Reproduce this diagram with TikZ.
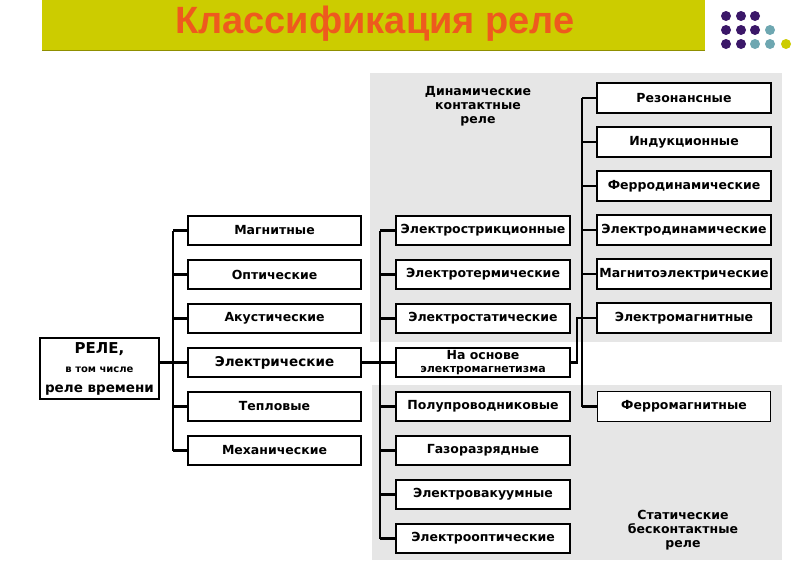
\documentclass[tikz,border=0pt]{standalone}
\usepackage{fontspec}
\setmainfont{DejaVu Sans}
\newfontfamily\titlefont{Liberation Sans}
\usetikzlibrary{positioning}
\definecolor{barolive}{HTML}{CCCC00}
\definecolor{titleorange}{HTML}{EE5A1E}
\definecolor{dotpurple}{HTML}{3B1768}
\definecolor{dotteal}{HTML}{6EA7B1}
\definecolor{panelgray}{HTML}{E6E6E6}
\begin{document}
\begin{tikzpicture}[x=1pt,y=-1pt,font=\bfseries\fontsize{12.5}{14}\selectfont,node distance=12.5pt,box/.style={draw,line width=2pt,fill=white,minimum width=173.5pt,minimum height=29.5pt,inner sep=1pt,align=center},bus/.style={line width=1.2pt},link/.style={line width=2.2pt},caption/.style={align=center,font=\bfseries\fontsize{12.5}{14}\selectfont}]
\useasboundingbox (0,0) rectangle (810,570);
\fill[barolive] (42,0) rectangle (705,50);
\draw[barolive!70!black,line width=0.8pt] (42,50) -- (705,50);
\node[font=\titlefont\bfseries\fontsize{38}{38}\selectfont,text=titleorange] (title) at (375,24){Классификация реле};
\foreach \cx/\cy/\cc in {726/16/dotpurple,741/16/dotpurple,755/16/dotpurple,726/30/dotpurple,741/30/dotpurple,755/30/dotpurple,770/30/dotteal,726/44/dotpurple,741/44/dotpurple,755/44/dotteal,770/44/dotteal,786/44/barolive} \fill[\cc] (\cx,\cy) circle[radius=5];
\fill[panelgray] (370,73) rectangle (782,342);
\fill[panelgray] (372,385) rectangle (782,560);
\node[caption] (dynlbl) at (478,106){Динамические\\контактные\\реле};
\node[caption] (statlbl) at (683,530){Статические\\бесконтактные\\реле};
\node[box,minimum width=119.5pt,minimum height=61.5pt,font=\bfseries\fontsize{13.5}{19.5}\selectfont] (root) at (99.5,368.5){{\fontsize{15}{19.5}\selectfont РЕЛЕ,}\\{\fontsize{10}{19.5}\selectfont в том числе}\\реле времени};
\node[box] (magn) at (274.5,230.5){Магнитные};
\node[box, below=of magn] (opt){Оптические};
\node[box, below=of opt] (akust){Акустические};
\node[box, below=of akust, font=\bfseries\fontsize{13.5}{14}\selectfont] (elektr){Электрические};
\node[box, below=of elektr] (tepl){Тепловые};
\node[box, below=of tepl] (mekh){Механические};
\node[box] (strikc) at (483,230.5){Электрострикционные};
\node[box, below=of strikc] (term){Электротермические};
\node[box, below=of term] (stat){Электростатические};
\node[box, below=of stat, font=\bfseries\fontsize{12.5}{13}\selectfont] (osnova){На основе\\{\fontsize{11}{13}\selectfont электромагнетизма}};
\node[box, below=of osnova] (polupr){Полупроводниковые};
\node[box, below=of polupr] (gaz){Газоразрядные};
\node[box, below=of gaz] (vakuum){Электровакуумные};
\node[box, below=of vakuum] (optich){Электрооптические};
\node[box] (rezon) at (684,98){Резонансные};
\node[box, below=of rezon] (indukc){Индукционные};
\node[box, below=of indukc] (ferrod){Ферродинамические};
\node[box, below=of ferrod] (elektrod){Электродинамические};
\node[box, below=of elektrod] (magnel){Магнитоэлектрические};
\node[box, below=of magnel] (elektrom){Электромагнитные};
\node[box, below=57.5pt of elektrom, line width=1pt] (ferrom){Ферромагнитные};
\coordinate (bus2) at (173,0); \coordinate (bus3) at (380,0); \coordinate (bus4) at (582,0); \coordinate (bend) at (577,0);
\draw[bus] (magn.west -| bus2) -- (mekh.west -| bus2); \foreach \n in {magn,opt,akust,tepl,mekh} \draw[link] (\n.west -| bus2) -- (\n.west); \draw[link] (root.east |- elektr.west) -- (elektr.west);
\draw[bus] (strikc.west -| bus3) -- (optich.west -| bus3); \foreach \n in {strikc,term,stat,polupr,gaz,vakuum,optich} \draw[link] (\n.west -| bus3) -- (\n.west); \draw[link] (elektr.east) -- (osnova.west);
\draw[bus] (rezon.west -| bus4) -- (ferrom.west -| bus4); \foreach \n in {rezon,indukc,ferrod,elektrod,magnel,elektrom,ferrom} \draw[link] (\n.west -| bus4) -- (\n.west); \draw[link] (osnova.east) -| (elektrom.west -| bend) -- (elektrom.west -| bus4);
\end{tikzpicture}
\end{document}
